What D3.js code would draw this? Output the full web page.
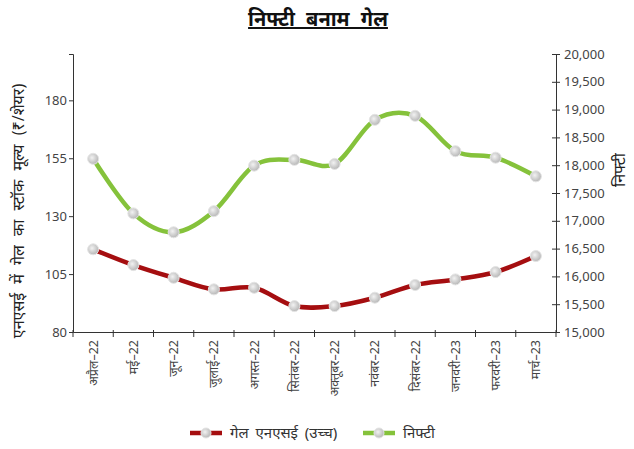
<!DOCTYPE html>
<html>
  <head>
    <meta charset="utf-8">
    <title>निफ्टी बनाम गेल</title>
    <script src="https://cdnjs.cloudflare.com/ajax/libs/d3/7.8.5/d3.min.js"></script>
    <style>
      body { margin: 0; background: #fff; }
      svg text { font-family: "Noto Sans", "Open Sans", sans-serif; }
      .tick text { fill: #444; font-size: 13px; }
      .domain, .tick line { stroke: #333; }
    </style>
  </head>
  <body>
    <div id="chart"></div>
    <script>
      // months (Apr-22 .. Mar-23)
      var months = ["अप्रैल–22", "मई–22", "जून–22", "जुलाई–22", "अगस्त–22", "सितंबर–22",
                    "अक्तूबर–22", "नवंबर–22", "दिसंबर–22", "जनवरी–23", "फरवरी–23", "मार्च–23"];
      // GAIL high on NSE (Rs/share)
      var gail = [115.7, 108.9, 103.4, 98.4, 99.1, 91.2, 91.2, 94.8, 100.3, 102.7, 105.9, 112.8];
      // Nifty monthly high
      var nifty = [18115, 17133, 16794, 17173, 17992, 18096, 18023, 18816, 18888, 18252, 18135, 17800];
      var leftTicks = [80, 105, 130, 155, 180];
      var rightTicks = [15000, 15500, 16000, 16500, 17000, 17500, 18000, 18500, 19000, 19500, 20000];

      var w = 634, h = 449;
      var pLeft = 73, pRight = 556, pTop = 54, pBottom = 332;

      var svg = d3.select("#chart").append("svg")
        .attr("width", w)
        .attr("height", h);

      var defs = svg.append("defs");
      var grad = defs.append("radialGradient").attr("id", "dot")
        .attr("cx", "40%").attr("cy", "40%").attr("r", "60%");
      grad.append("stop").attr("offset", "0%").attr("stop-color", "#f2f2f2");
      grad.append("stop").attr("offset", "100%").attr("stop-color", "#b8b8b8");

      var x = d3.scaleBand().domain(months).range([pLeft, pRight]);
      var yL = d3.scaleLinear().domain([80, 200]).range([pBottom, pTop]);
      var yR = d3.scaleLinear().domain([15000, 20000]).range([pBottom, pTop]);

      // title
      svg.append("text")
        .attr("x", 318).attr("y", 26)
        .attr("text-anchor", "middle")
        .style("font-size", "20px").style("font-weight", "bold")
        .style("text-decoration", "underline")
        .style("word-spacing", "6px")
        .attr("fill", "#111")
        .text("निफ्टी बनाम गेल");

      // axes
      svg.append("g")
        .attr("transform", "translate(" + pLeft + ",0)")
        .call(d3.axisLeft(yL).tickValues(leftTicks).tickSizeOuter(0).tickSize(4))
        .call(function(g) { g.selectAll("text").attr("x", -6); });

      svg.append("g")
        .attr("transform", "translate(" + pRight + ",0)")
        .call(d3.axisRight(yR).tickValues(rightTicks).tickSizeOuter(0)
          .tickFormat(d3.format(",")).tickSize(4))
        .call(function(g) {
          g.selectAll(".tick line").attr("x1", -4);
          g.selectAll("text").attr("x", 8);
        });

      var xAxis = svg.append("g")
        .attr("transform", "translate(0," + pBottom + ")")
        .call(d3.axisBottom(x).tickSize(0).tickSizeOuter(0));
      xAxis.selectAll(".tick text")
        .attr("transform", "rotate(-90)")
        .attr("x", -8).attr("y", 0).attr("dy", "0.35em")
        .style("text-anchor", "end")
        .style("font-size", "12.5px");
      // tick marks on the band edges
      var edges = months.map(function(m) { return x(m); }).concat([pRight]);
      xAxis.selectAll(".edge").data(edges).enter().append("line")
        .attr("class", "edge")
        .attr("x1", function(d) { return d; }).attr("x2", function(d) { return d; })
        .attr("y1", -2).attr("y2", 5)
        .attr("stroke", "#333");

      // axis titles
      svg.append("text")
        .attr("transform", "translate(24,211) rotate(-90)")
        .attr("text-anchor", "middle")
        .style("font-size", "16px")
        .style("word-spacing", "5px")
        .attr("fill", "#222")
        .text("एनएसई में गेल का स्टॉक मूल्य (₹/शेयर)");

      svg.append("text")
        .attr("transform", "translate(625,170) rotate(-90)")
        .attr("text-anchor", "middle")
        .style("font-size", "16px")
        .attr("fill", "#222")
        .text("निफ्टी");

      var cx = function(d, i) { return x(months[i]) + x.bandwidth() / 2; };

      var series = [
        { name: "गेल एनएसई (उच्च)", values: gail, y: yL, color: "#a50e10" },
        { name: "निफ्टी", values: nifty, y: yR, color: "#85c23b" }
      ];

      series.forEach(function(s) {
        var line = d3.line()
          .x(cx)
          .y(function(d) { return s.y(d); })
          .curve(d3.curveCatmullRom.alpha(0));
        svg.append("path")
          .datum(s.values)
          .attr("d", line)
          .attr("fill", "none")
          .attr("stroke", s.color)
          .attr("stroke-width", 4.5);
        svg.selectAll(null).data(s.values).enter().append("circle")
          .attr("cx", cx)
          .attr("cy", function(d) { return s.y(d); })
          .attr("r", 5.5)
          .attr("fill", "url(#dot)")
          .attr("stroke", "#e4e4e4")
          .attr("stroke-width", 1);
      });

      // legend
      var legend = svg.append("g").attr("transform", "translate(0,433)");
      var lx = [190, 363];
      series.forEach(function(s, i) {
        var g = legend.append("g").attr("transform", "translate(" + lx[i] + ",0)");
        g.append("line").attr("x1", 0).attr("x2", 32)
          .attr("stroke", s.color).attr("stroke-width", 4.5);
        g.append("circle").attr("cx", 16).attr("r", 5)
          .attr("fill", "url(#dot)").attr("stroke", "#e4e4e4");
        g.append("text").attr("x", 40).attr("dy", "0.35em")
          .style("font-size", "15px").style("word-spacing", "3px")
          .attr("fill", "#333")
          .text(s.name);
      });
    </script>
  </body>
</html>
